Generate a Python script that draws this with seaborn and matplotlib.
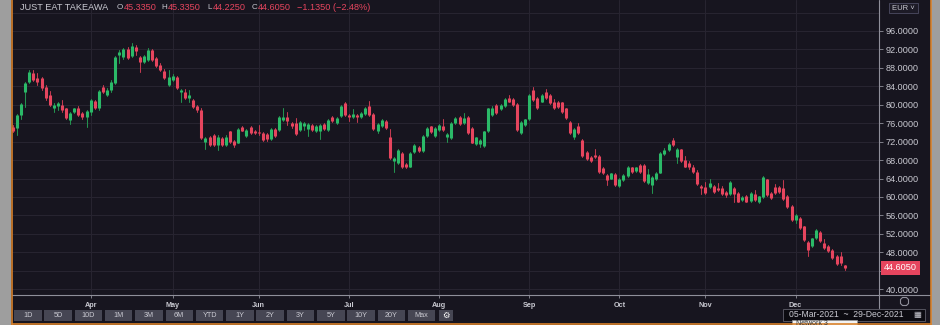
import numpy as np
import pandas as pd
import matplotlib
matplotlib.use("Agg")
import matplotlib.pyplot as plt
import matplotlib.transforms as mtransforms
from matplotlib.patches import Rectangle
from matplotlib.lines import Line2D
import seaborn as sns

# Daily OHLC, Just Eat Takeaway (EUR), one value per trading session from 05-Mar-2021
opens = [
    75.2, 74.9, 77.8, 82.8, 85.0, 86.8, 85.7, 85.7, 83.9, 82.1,
    79.2, 79.7, 80.0, 79.2, 76.7, 78.5, 79.4, 78.2, 77.3, 78.5,
    80.8, 79.2, 83.9, 82.1, 83.2, 84.7, 90.8, 90.3, 92.0, 90.6,
    92.6, 90.4, 89.3, 89.7, 91.9, 90.1, 88.6, 87.4, 84.3, 85.4,
    86.1, 82.8, 82.8, 81.4, 81.0, 79.7, 78.9, 72.0, 72.9, 73.4,
    71.3, 72.7, 71.3, 74.2, 72.1, 71.8, 75.1, 73.2, 75.1, 74.4,
    74.1, 73.9, 73.6, 72.5, 74.7, 74.5, 76.7, 77.3, 76.0, 76.0,
    74.5, 75.3, 74.7, 75.6, 74.2, 74.2, 75.8, 74.5, 77.3, 76.0,
    77.6, 80.3, 77.8, 77.4, 77.8, 77.3, 78.0, 79.7, 78.0, 74.4,
    75.4, 76.5, 72.9, 67.7, 67.3, 69.6, 67.1, 66.6, 69.8, 70.9,
    70.0, 73.2, 75.3, 73.2, 74.5, 75.4, 72.9, 72.7, 76.0, 77.3,
    76.0, 77.4, 74.9, 71.5, 71.5, 71.1, 74.2, 77.8, 79.9, 79.0,
    79.7, 81.4, 81.2, 80.2, 73.8, 75.6, 76.8, 83.2, 81.4, 80.7,
    82.8, 82.1, 80.7, 80.7, 80.5, 79.2, 76.3, 73.1, 75.4, 72.4,
    69.8, 68.6, 69.1, 68.9, 66.2, 64.8, 64.0, 65.0, 62.4, 63.7,
    64.5, 66.4, 65.7, 66.9, 66.9, 62.96, 62.6, 63.8, 65.3, 69.3,
    70.2, 72.4, 68.6, 70.3, 68.0, 67.3, 66.4, 65.5, 62.4, 62.2,
    62.1, 62.4, 61.9, 61.9, 61.1, 60.6, 61.9, 60.9, 59.3, 60.2,
    59.1, 60.6, 58.8, 59.9, 63.8, 60.9, 62.2, 62.2, 61.9, 60.2,
    58.0, 55.0, 55.4, 53.6, 50.3, 49.4, 51.0, 52.5, 50.1, 49.4,
    48.5, 47.1, 47.2, 45.335,
]
highs = [
    75.5, 78.0, 80.4, 85.0, 87.5, 87.5, 86.8, 86.0, 84.2, 83.0,
    80.3, 80.5, 81.0, 79.4, 78.4, 79.4, 79.8, 78.4, 78.9, 81.3,
    81.0, 83.3, 84.3, 83.6, 85.3, 90.6, 91.9, 92.3, 92.5, 93.3,
    92.9, 90.6, 90.8, 92.2, 92.1, 90.3, 89.0, 87.8, 87.5, 86.7,
    86.3, 83.4, 83.4, 83.2, 81.3, 80.0, 79.4, 73.0, 73.3, 73.7,
    73.4, 73.0, 73.4, 74.4, 72.3, 75.0, 75.4, 74.7, 75.3, 74.6,
    75.6, 74.1, 73.9, 74.9, 74.9, 77.5, 79.3, 78.5, 76.3, 77.1,
    76.5, 76.3, 76.0, 75.8, 75.5, 75.8, 76.0, 76.9, 77.6, 77.3,
    79.9, 80.6, 78.0, 79.0, 78.0, 78.5, 79.6, 80.9, 78.2, 76.0,
    76.9, 76.7, 74.7, 68.6, 70.4, 69.8, 67.3, 69.8, 71.5, 71.1,
    73.4, 75.1, 75.4, 75.1, 75.8, 76.8, 73.8, 76.3, 77.3, 77.5,
    78.3, 77.6, 75.1, 73.1, 72.6, 74.4, 79.4, 79.7, 80.1, 80.1,
    81.4, 82.1, 81.4, 80.4, 76.5, 77.0, 82.3, 83.9, 81.6, 82.3,
    83.5, 82.3, 81.2, 80.9, 80.7, 79.4, 76.5, 74.9, 76.1, 72.6,
    70.0, 68.8, 70.3, 69.1, 66.4, 65.0, 65.3, 65.2, 64.2, 65.0,
    66.8, 66.6, 66.6, 67.1, 67.1, 66.0, 64.5, 65.5, 69.7, 70.6,
    71.7, 72.7, 70.7, 70.5, 68.8, 67.7, 66.9, 65.8, 62.6, 63.3,
    64.0, 62.6, 63.0, 62.4, 61.3, 63.5, 62.1, 61.1, 60.1, 60.4,
    61.0, 61.5, 60.3, 64.5, 64.0, 61.1, 62.8, 62.4, 63.7, 60.4,
    58.2, 56.3, 55.6, 53.8, 50.5, 51.2, 53.0, 52.7, 50.8, 49.6,
    48.7, 47.3, 48.1, 45.335,
]
lows = [
    74.0, 73.4, 76.8, 79.6, 84.7, 85.2, 84.3, 83.3, 81.0, 79.8,
    78.5, 78.9, 78.5, 76.8, 75.8, 78.2, 77.5, 77.0, 75.2, 77.8,
    79.0, 78.8, 82.6, 81.9, 82.8, 84.5, 89.0, 90.0, 89.9, 90.4,
    90.8, 87.0, 89.0, 89.5, 89.5, 88.2, 87.3, 85.5, 84.0, 85.2,
    83.4, 80.5, 81.2, 80.5, 79.4, 78.5, 72.5, 70.5, 71.0, 71.0,
    70.2, 71.0, 71.0, 71.8, 70.9, 71.6, 74.2, 72.9, 73.7, 73.6,
    73.5, 72.1, 72.2, 72.3, 73.0, 74.3, 76.5, 75.6, 75.0, 73.4,
    74.3, 74.5, 73.2, 74.3, 74.0, 72.5, 74.5, 74.3, 76.3, 75.8,
    77.4, 77.6, 76.5, 77.2, 76.3, 77.1, 77.8, 77.6, 74.5, 73.9,
    75.2, 74.7, 68.2, 65.5, 67.1, 66.2, 66.2, 66.4, 69.6, 69.8,
    69.8, 73.0, 73.8, 73.0, 74.3, 74.3, 72.0, 72.5, 75.8, 75.6,
    75.8, 73.6, 71.6, 71.3, 70.8, 70.9, 74.0, 77.6, 78.1, 78.8,
    79.5, 80.5, 79.7, 74.3, 73.6, 75.4, 76.6, 80.8, 79.0, 80.5,
    81.2, 80.1, 79.0, 79.4, 78.3, 76.9, 73.6, 72.5, 73.6, 68.7,
    68.0, 67.5, 68.4, 65.3, 64.9, 62.6, 63.8, 62.4, 62.2, 63.5,
    64.3, 65.3, 65.5, 65.3, 63.3, 62.8, 60.9, 63.6, 65.1, 69.1,
    70.0, 71.1, 67.3, 67.5, 66.4, 66.0, 65.3, 62.6, 60.6, 60.7,
    61.9, 60.9, 61.2, 60.4, 59.9, 60.4, 58.8, 58.8, 59.1, 58.8,
    58.9, 59.1, 58.6, 59.7, 60.2, 59.5, 60.7, 60.9, 59.3, 57.6,
    54.8, 54.4, 53.0, 50.5, 47.2, 49.2, 50.8, 50.3, 48.8, 48.1,
    46.5, 45.3, 45.3, 44.225,
]
closes = [
    74.3, 77.8, 80.2, 84.8, 87.2, 85.4, 85.0, 83.6, 81.4, 80.0,
    80.0, 80.3, 78.9, 77.1, 78.2, 79.2, 77.8, 77.3, 78.6, 81.0,
    79.2, 83.0, 82.8, 83.3, 85.0, 90.4, 91.5, 92.0, 90.1, 92.7,
    91.7, 89.3, 90.6, 91.9, 89.7, 88.4, 87.5, 85.7, 86.1, 86.3,
    83.6, 83.2, 81.4, 82.1, 79.6, 78.9, 72.7, 72.7, 71.3, 71.3,
    73.1, 71.3, 73.1, 72.0, 71.3, 74.7, 74.4, 74.5, 73.9, 73.8,
    73.8, 72.4, 72.5, 74.7, 73.2, 77.3, 77.3, 76.5, 75.3, 73.6,
    76.3, 76.0, 75.8, 74.5, 75.3, 75.6, 74.7, 76.7, 76.5, 77.1,
    79.7, 77.8, 77.4, 78.1, 77.3, 78.3, 79.2, 77.8, 74.7, 75.8,
    76.7, 74.9, 68.4, 68.4, 70.2, 66.4, 66.4, 69.6, 71.3, 70.0,
    73.2, 74.9, 74.0, 74.9, 75.6, 74.5, 73.6, 76.1, 77.1, 75.8,
    77.2, 73.8, 71.8, 72.9, 72.4, 74.2, 79.2, 79.4, 78.3, 79.9,
    81.2, 80.7, 79.9, 74.5, 76.3, 76.8, 82.1, 81.0, 79.2, 82.1,
    81.4, 80.3, 79.2, 79.6, 78.5, 77.1, 73.8, 74.7, 73.8, 68.9,
    68.2, 67.7, 68.6, 65.5, 65.1, 63.7, 65.1, 62.6, 64.0, 64.8,
    66.6, 65.5, 66.4, 65.5, 63.5, 65.0, 64.3, 65.3, 69.5, 70.2,
    71.5, 71.3, 70.5, 67.7, 66.6, 66.5, 65.5, 62.8, 61.9, 60.9,
    63.0, 61.1, 61.4, 60.6, 60.4, 63.3, 60.6, 59.0, 59.9, 59.0,
    60.8, 59.3, 60.1, 64.3, 60.4, 59.7, 60.9, 61.1, 59.5, 57.8,
    55.0, 56.1, 53.2, 50.7, 48.5, 51.0, 52.8, 50.5, 49.0, 48.3,
    46.7, 45.5, 45.74, 44.605,
]

range_start, range_end = "2021-03-05", "2021-12-29"
exchange_holidays = ["2021-04-02", "2021-04-05"]
price_ticks = list(range(40, 100, 4))
period_buttons = ["1D", "5D", "10D", "1M", "3M", "6M", "YTD", "1Y", "2Y", "3Y", "5Y", "10Y", "20Y", "Max"]

# colours
BG = "#17151f"
GRID = "#272430"
AXIS = "#8f8f9a"
TXT = "#c9c9d1"
UP = "#2bb968"
DOWN = "#e6455e"
UP_WICK = "#23924f"
DOWN_WICK = "#c13a50"
ORANGE = "#d9822b"
SIDE = "#9e9e9e"
BTN = "#464653"

sns.set_theme(style="dark", rc={"axes.facecolor": BG, "figure.facecolor": BG})
plt.rcParams["font.family"] = ["Liberation Sans", "DejaVu Sans"]

# trading calendar for the selected range
sessions = pd.bdate_range(range_start, range_end)
sessions = sessions[~sessions.isin(pd.to_datetime(exchange_holidays))]
pos = pd.Series(np.arange(len(sessions)), index=sessions)
month_first = pos.groupby(sessions.to_period("M")).min().iloc[1:]
month_pos = month_first.values
month_lab = [sessions[i].strftime("%b") for i in month_pos]

df = pd.DataFrame({"session": np.arange(len(opens)), "open": opens, "high": highs,
                   "low": lows, "close": closes})
df["dir"] = np.where(df["close"] >= df["open"], "up", "down")
mid = (df["open"] + df["close"]) / 2
half = np.maximum((df["open"] - df["close"]).abs() / 2, 0.12)
body = pd.concat([df.assign(price=mid - half), df.assign(price=mid + half)], ignore_index=True)
wick = pd.concat([df.assign(price=df["low"]), df.assign(price=df["high"])], ignore_index=True)

W, H = 940, 325
def fx(x):
    return x / W
def fy(y):
    return 1 - y / H

fig = plt.figure(figsize=(W / 100, H / 100), dpi=100, facecolor=BG)
ax = fig.add_axes([fx(12), fy(295), 867 / W, 295 / H])
ax.set_facecolor(BG)
ax.set_axisbelow(True)

sns.lineplot(data=wick, x="session", y="price", hue="dir", units="session", estimator=None,
             palette={"up": UP_WICK, "down": DOWN_WICK}, linewidth=0.75, legend=False,
             sort=False, ax=ax)
sns.lineplot(data=body, x="session", y="price", hue="dir", units="session", estimator=None,
             palette={"up": UP, "down": DOWN}, linewidth=2.2, legend=False,
             sort=False, solid_capstyle="butt", ax=ax)

ax.set_xlim(-0.2, 211.35)
ax.set_ylim(38.73, 102.72)
ax.set_xlabel("")
ax.set_ylabel("")
for s in ax.spines.values():
    s.set_visible(False)

ax.set_xticks(month_pos, month_lab)
ax.tick_params(axis="x", bottom=True, length=2.5, width=0.6, color=AXIS, pad=2.5,
               labelsize=5.2, labelcolor=TXT)
for t in ax.get_xticklabels():
    t.set_fontweight("bold")
ax.yaxis.tick_right()
last_close = closes[-1]
# the label nearest the last price sits under the price tag
ax.set_yticks(price_ticks, ["" if abs(v - last_close) < 2 else f"{v:.4f}" for v in price_ticks])
ax.set_yticks([100], minor=True)
ax.tick_params(axis="y", which="major", right=True, left=False, length=3, width=0.6,
               color=AXIS, pad=2, labelsize=6.6, labelcolor=TXT)
ax.tick_params(axis="y", which="minor", length=0, labelright=False)
ax.grid(True, which="both", color=GRID, linewidth=0.8)

# axis lines of the price panel
fig.add_artist(Line2D([fx(12), fx(930)], [fy(295), fy(295)], color=AXIS, lw=0.8))
fig.add_artist(Line2D([fx(879), fx(879)], [fy(0), fy(308)], color=AXIS, lw=0.8))

# last price tag
tag_tr = mtransforms.blended_transform_factory(ax.transAxes, ax.transData)
ax.annotate(f"{last_close:.4f}", xy=(1.0, last_close), xycoords=tag_tr, xytext=(5, 0),
            textcoords="offset pixels", ha="left", va="center", fontsize=6.6, color="white",
            bbox=dict(boxstyle="square,pad=0.3", fc=DOWN, ec="none"), annotation_clip=False)

# header line
chg = closes[-1] - closes[-2]
pct = chg / closes[-2] * 100
hdr = [(20, "JUST EAT TAKEAWA", TXT, 6.6), (117, "O", TXT, 5.8), (123.5, f"{opens[-1]:.4f}", DOWN, 6.6),
       (161.5, "H", TXT, 5.8), (167.5, f"{highs[-1]:.4f}", DOWN, 6.6), (207, "L", TXT, 5.8),
       (212.5, f"{lows[-1]:.4f}", DOWN, 6.6), (251.5, "C", TXT, 5.8), (258, f"{closes[-1]:.4f}", DOWN, 6.6),
       (297, f"\u2212{abs(chg):.4f} (\u2212{abs(pct):.2f}%)", DOWN, 6.6)]
for x, s, c, fs in hdr:
    fig.text(fx(x), fy(7.5), s, color=c, fontsize=fs, ha="left", va="center")

# currency selector
fig.add_artist(Rectangle((fx(889), fy(13)), 29 / W, 10 / H, fc="#1d1b27", ec="#46455a", lw=0.7))
fig.text(fx(903.5), fy(8), "EUR \u02c5", color=TXT, fontsize=5.5, ha="center", va="center")

# settings ring under the price scale
fig.add_artist(Line2D([fx(904)], [fy(301)], marker="8", ms=6, mfc="none", mec=AXIS, mew=0.8))

# period buttons
for k, lab in enumerate(period_buttons):
    x0 = 14 + k * 30.3
    fig.add_artist(Rectangle((fx(x0), fy(320.5)), 27.5 / W, 10.5 / H, fc=BTN, ec="none"))
    fig.text(fx(x0 + 13.75), fy(315.3), lab, color=TXT, fontsize=5.2, ha="center", va="center")
fig.add_artist(Rectangle((fx(438.5), fy(320.5)), 14 / W, 10.5 / H, fc=BTN, ec="none"))
fig.text(fx(445.5), fy(315.3), "\u2699", color="white", fontsize=6, ha="center", va="center",
         family="DejaVu Sans")

# date range box
fig.add_artist(Rectangle((fx(783), fy(320.5)), 142 / W, 11.5 / H, fc="#0c0b11", ec="#55545f", lw=0.7))
fig.text(fx(789), fy(314.8), "05-Mar-2021  ~  29-Dec-2021", color=TXT, fontsize=6.2,
         ha="left", va="center")
fig.text(fx(917.5), fy(314.8), "\u25a6", color=TXT, fontsize=6, ha="center", va="center",
         family="DejaVu Sans")

# window frame
fig.add_artist(Rectangle((0, 0), fx(11), 1, fc=SIDE, ec="none"))
fig.add_artist(Rectangle((fx(931), 0), 1 - fx(931), 1, fc=SIDE, ec="none"))
fig.add_artist(Line2D([fx(11.5), fx(11.5)], [0, 1], color=ORANGE, lw=1.2))
fig.add_artist(Line2D([fx(930.5), fx(930.5)], [0, 1], color=ORANGE, lw=1.2))
fig.add_artist(Line2D([fx(11.5), fx(930.5)], [fy(324), fy(324)], color=ORANGE, lw=1.2))

# hover tooltip over the date box
fig.add_artist(Rectangle((fx(792), fy(326)), 65 / W, 6 / H, fc="#f2f2f2", ec="#999999", lw=0.5))
fig.text(fx(796), fy(319.8), "Network 3", color="#333333", fontsize=5.0, ha="left", va="top")

fig.savefig("out.png", dpi=100, facecolor=BG)
